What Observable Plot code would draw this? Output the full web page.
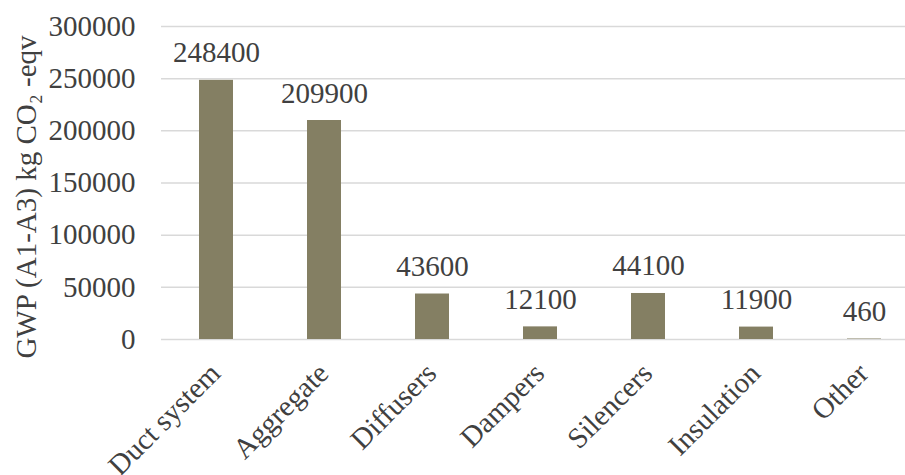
<!DOCTYPE html>
<html>
<head>
<meta charset="utf-8">
<script src="https://cdn.jsdelivr.net/npm/d3@7"></script>
<script src="https://cdn.jsdelivr.net/npm/@observablehq/plot@0.6"></script>
<style>
  html, body { margin: 0; padding: 0; background: #fff; }
  svg { display: block; }
</style>
</head>
<body>
<div id="chart"></div>
<script>
const categories = ["Duct system", "Aggregate", "Diffusers", "Dampers", "Silencers", "Insulation", "Other"];
const values = [248400, 209900, 43600, 12100, 44100, 11900, 460];
const yTicks = [0, 50000, 100000, 150000, 200000, 250000, 300000];
const yTitle = "GWP (A1-A3) kg CO\u2082 -eqv";

const data = categories.map((c, i) => ({category: c, value: values[i]}));
const font = "Times New Roman, Liberation Serif, DejaVu Serif, serif";
const ink = "#404040";

const chart = Plot.plot({
  width: 905,
  height: 475,
  marginLeft: 161,
  marginRight: 0,
  marginTop: 26,
  marginBottom: 136,
  style: {fontFamily: font, fontSize: "29px", color: ink, background: "#fff"},
  x: {type: "band", domain: categories, range: [161, 919], paddingInner: 0.686, paddingOuter: 0.343, axis: null},
  y: {domain: [0, 300000], ticks: yTicks, tickFormat: d => String(d), label: null},
  marks: [
    Plot.gridY(yTicks, {stroke: "#d9d9d9", strokeOpacity: 1, strokeWidth: 1.5}),
    Plot.axisY(yTicks, {tickSize: 0, tickPadding: 26, fontSize: 29, fontFamily: font, fill: ink, tickFormat: d => String(d), label: null}),
    Plot.barY(data, {x: "category", y: "value", fill: "#847f63"}),
    Plot.text(data, {x: "category", y: "value", text: d => String(d.value), dy: -18, lineAnchor: "bottom", fontSize: 29, fontFamily: font, fill: ink}),
    Plot.text(categories, {x: d => d, frameAnchor: "bottom", text: d => d, rotate: -45, textAnchor: "end", lineAnchor: "middle", dx: -1, dy: 29, fontSize: 29, fontFamily: font, fill: ink}),
    Plot.text([yTitle], {frameAnchor: "left", text: d => d, rotate: -90, textAnchor: "middle", lineAnchor: "middle", dx: -135, dy: 14, fontSize: 29, fontFamily: font, fill: ink})
  ]
});
document.getElementById("chart").appendChild(chart);
</script>
</body>
</html>
